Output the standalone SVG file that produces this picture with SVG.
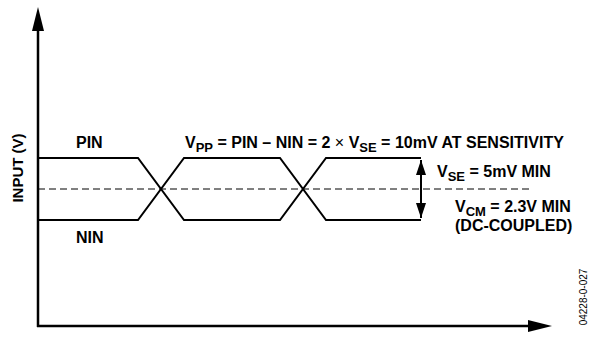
<svg xmlns="http://www.w3.org/2000/svg" width="589" height="337" viewBox="0 0 589 337">
<style>
text{font-family:"Liberation Sans",Arial,sans-serif;fill:#000}
.b{font-weight:bold;font-size:16px}
.l{font-weight:bold;font-size:15px}
.s{font-size:13px}
.ax{stroke:#000;stroke-width:2.5;fill:none}
.sig{stroke:#000;stroke-width:2;fill:none;stroke-linejoin:miter}
.dash{stroke:#000;stroke-width:1;stroke-dasharray:7,4;fill:none}
</style>
<defs>
<marker id="ah" viewBox="0 0 10 10" refX="10" refY="5" markerWidth="15" markerHeight="10" markerUnits="userSpaceOnUse" orient="auto-start-reverse" preserveAspectRatio="none">
<path d="M0,0 L10,5 L0,10 Z" fill="#000"/>
</marker>
</defs>
<g id="axes">
<line class="ax" x1="38" y1="327" x2="38" y2="28"/>
<path d="M38,7 L32,31 L44,31 Z" fill="#000"/>
<line class="ax" x1="37" y1="326" x2="530" y2="326"/>
<path d="M552,326 L528,320 L528,332 Z" fill="#000"/>
</g>
<g id="connectors">
<line class="dash" x1="38" y1="189" x2="533" y2="189"/>
<path class="sig" d="M38,158 L138,158 L184,220 L280,220 L326,158 L421,158"/>
<path class="sig" d="M38,220 L138,220 L184,158 L280,158 L326,220 L421,220"/>
<line stroke="#000" stroke-width="2" x1="421" y1="160" x2="421" y2="218" marker-start="url(#ah)" marker-end="url(#ah)"/>
</g>
<g id="labels">
<text class="b" x="76" y="148">PIN</text>
<text class="b" x="76" y="243">NIN</text>
<text class="b" x="185" y="148">V<tspan class="s" dy="4">PP</tspan><tspan dy="-4"> = PIN – NIN = 2 </tspan><tspan font-weight="normal">×</tspan><tspan> V</tspan><tspan class="s" dy="4">SE</tspan><tspan dy="-4"> = 10mV AT SENSITIVITY</tspan></text>
<text class="b" x="437" y="177">V<tspan class="s" dy="4">SE</tspan><tspan dy="-4"> = 5mV MIN</tspan></text>
<text class="b" x="455" y="212">V<tspan class="s" dy="3.5">CM</tspan><tspan dy="-3.5"> = 2.3V MIN</tspan></text>
<text class="b" x="455" y="231">(DC-COUPLED)</text>
<text class="l" transform="translate(23,168) rotate(-90)" text-anchor="middle">INPUT (V)</text>
<text font-size="10" transform="translate(587,297) rotate(-90)" text-anchor="middle">04228-0-027</text>
</g>
</svg>
